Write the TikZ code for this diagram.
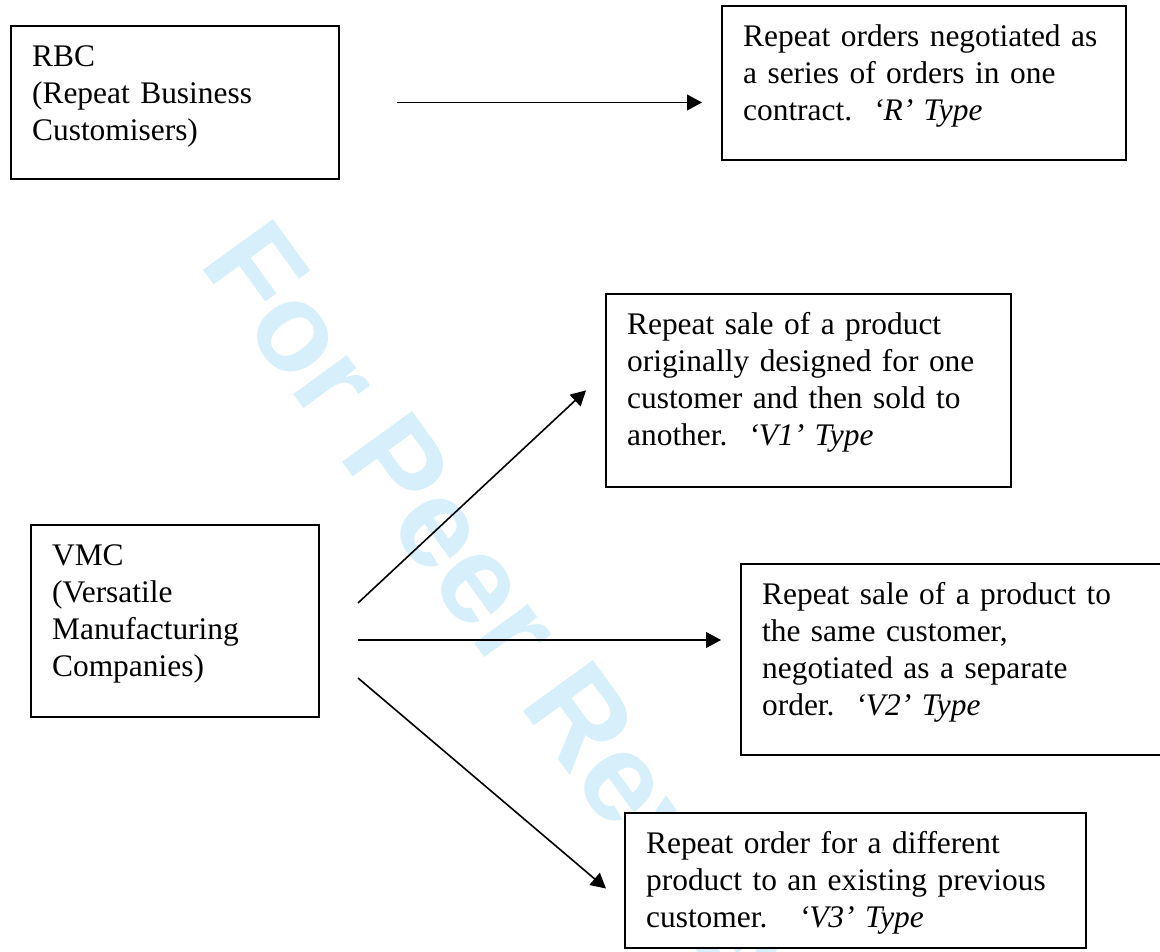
\documentclass[tikz,border=0pt]{standalone}
\usepackage{fontspec}
\setmainfont{Liberation Serif}
\newfontfamily\wmfont{Liberation Sans}
\usetikzlibrary{arrows.meta, calc}
\definecolor{wmblue}{RGB}{214,239,250}

\tikzset{
  box/.style n args={2}{draw, line width=0.75pt, fill=white, anchor=north west,
    inner sep=0pt, align=left, text height=15.3pt,
    text width=#1, text depth=#2, execute at begin node={\leftskip=7.9pt}},
  link/.style={->, line width=0.6pt}
}

\begin{document}
\begin{tikzpicture}[x=0.374pt, y=-0.374pt, >={Triangle[length=5.6pt,width=5.9pt]},
  font=\fontsize{11.75}{13.84}\selectfont]
  \useasboundingbox (0,0) rectangle (1160,952);
  % watermark
  \node[rotate=-54, anchor=base west, inner sep=0pt, text=wmblue,
    font=\wmfont\bfseries\fontsize{47}{47}\selectfont] (mark) at (198,263) {For Peer Review};

  \node[box={122.7pt}{41.9pt}] (rbc) at (10,25) {RBC\\(Repeat Business\\Customisers)};
  \node[box={151.1pt}{42.3pt}] (rtype) at (721,5)
    {Repeat orders negotiated as\\a series of orders in one\\contract.~~\textit{‘R’ Type}};
  \node[box={151.5pt}{56.8pt}] (vone) at (605,293)
    {Repeat sale of a product\\originally designed for one\\customer and then sold to\\another.~~\textit{‘V1’ Type}};
  \node[box={107.7pt}{56.5pt}] (vmc) at (30,524)
    {VMC\\(Versatile\\Manufacturing\\Companies)};
  \node[box={164.6pt}{56.1pt}] (vtwo) at (740,563)
    {Repeat sale of a product to\\the same customer,\\negotiated as a separate\\order.~~\textit{‘V2’ Type}};
  \node[box={172.4pt}{35.2pt}] (vthree) at (624,812)
    {Repeat order for a different\\product to an existing previous\\customer.~~~\textit{‘V3’ Type}};

  \draw[link] ($(rbc.east)+(57,0)$) -- ($(rbc.east -| rtype.west)+(-19,0)$);
  \draw[link] ($(vmc.east)+(38,-18)$) -- ($(vone.west)+(-19,0)$);
  \draw[link] ($(vmc.east)+(38,19)$) -- ($(vmc.east -| vtwo.west)+(-19,19)$);
  \draw[link] ($(vmc.east)+(38,57)$) -- ($(vthree.west)+(-18,8)$);
\end{tikzpicture}
\end{document}
